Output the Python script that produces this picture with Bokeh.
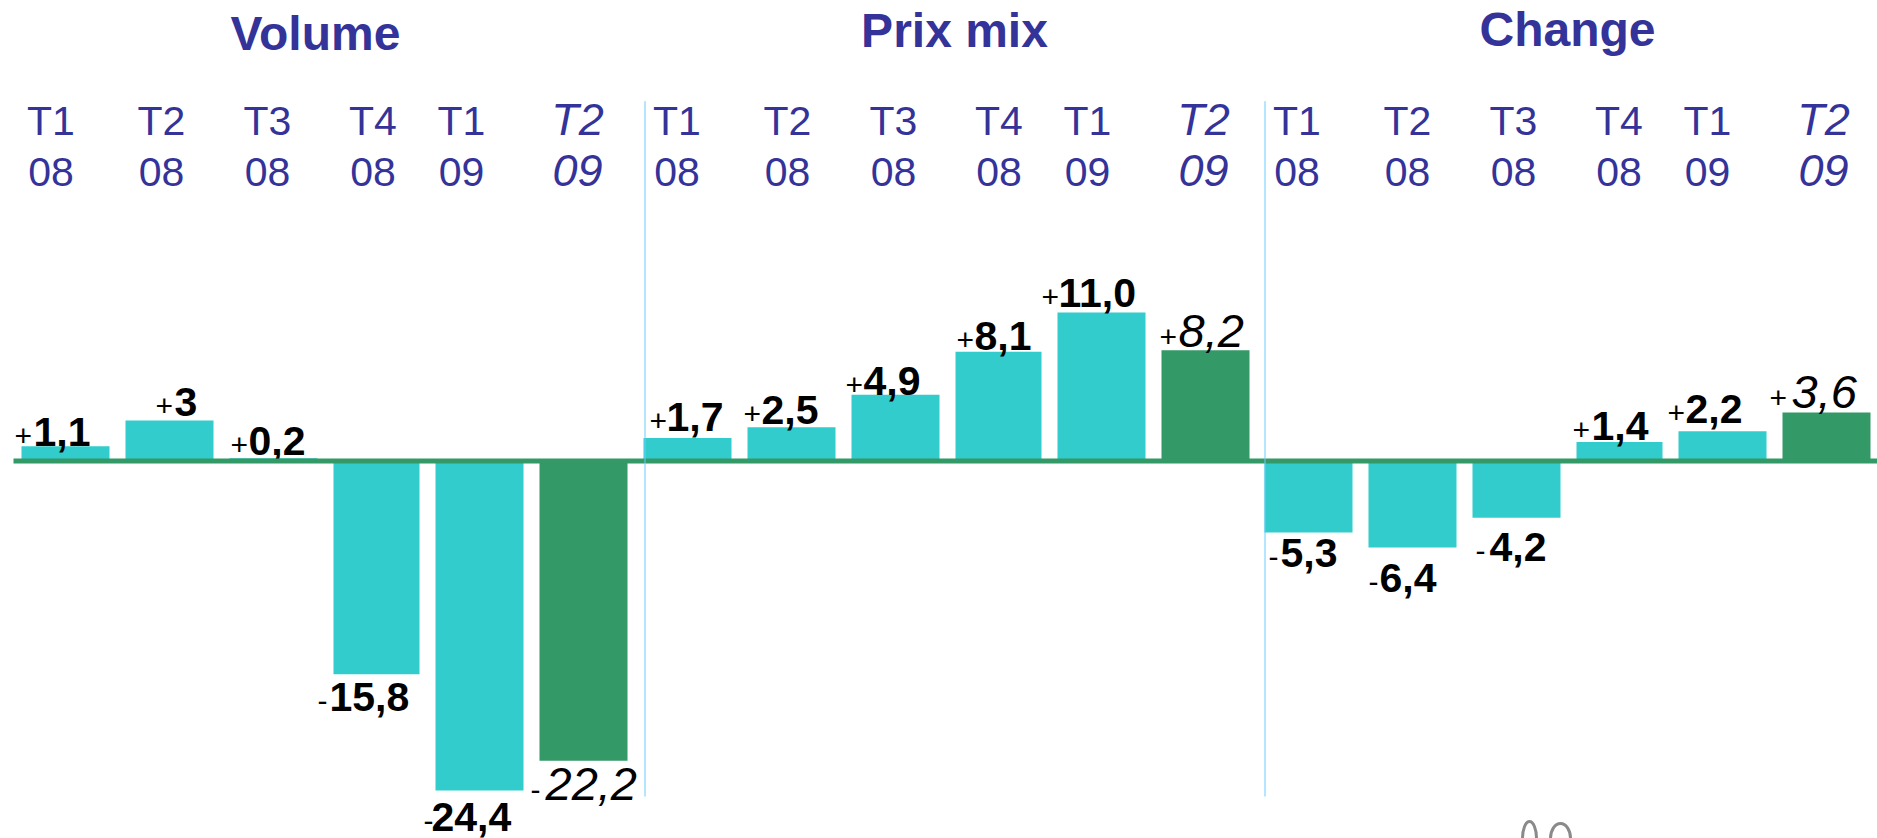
from bokeh.plotting import figure
from bokeh.core.properties import value
from bokeh.embed import file_html
from bokeh.resources import INLINE

# ---- data ----
groups = ["Volume", "Prix mix", "Change"]
quarters = ["T1", "T2", "T3", "T4", "T1", "T2"]
years = ["08", "08", "08", "08", "09", "09"]
volume = [1.1, 3.0, 0.2, -15.8, -24.4, -22.2]
prix_mix = [1.7, 2.5, 4.9, 8.1, 11.0, 8.2]
change = [-5.3, -6.4, -4.2, 1.4, 2.2, 3.6]
volume_labels = ["1,1", "3", "0,2", "15,8", "24,4", "22,2"]
prix_mix_labels = ["1,7", "2,5", "4,9", "8,1", "11,0", "8,2"]
change_labels = ["5,3", "6,4", "4,2", "1,4", "2,2", "3,6"]

# ---- layout (page pixels) ----
W, H = 1877, 838
ZERO_PX, PX_PER_UNIT = 460.5, 13.5
group_bar_origin = [21, 643, 1264]
bar_steps = [0, 104, 208, 312, 414, 518]
bar_widths = [88, 88, 88, 86, 88, 88]
group_label_shift = [0, 626, 1246]
label_centers = [50.5, 161, 267, 372.5, 461, 580]
title_pos = [(315, 50), (954, 47), (1567, 46)]
dividers = [644.5, 1264.5]
sign_x = [[14, 155, 230, 317, 423, 530],
          [649, 743, 845, 956, 1041, 1159],
          [1268, 1368, 1475, 1572, 1667, 1769]]
num_x = [[33, 174, 248, 329, 431, 545],
         [666, 761, 863, 974, 1058, 1178],
         [1280, 1379, 1489, 1591, 1685, 1791]]
baselines = [[446, 416, 455, 711, 831, 800],
             [431, 424, 395, 350, 307, 347],
             [567, 592, 561, 440, 423, 408]]

NAVY, TEAL, GREEN, BLUE = "#333399", "#33CCCC", "#339966", "#66CCFF"
FONT = value("Liberation Sans")

p = figure(width=W, height=H, toolbar_location=None, output_backend="svg",
           x_range=(0, W),
           y_range=(-(H - ZERO_PX) / PX_PER_UNIT, ZERO_PX / PX_PER_UNIT),
           min_border=0, outline_line_color=None, margin=(0, 0, 0, 0))
p.axis.visible = False
p.grid.visible = False
p.background_fill_color = "white"
p.border_fill_color = "white"


def ydata(px):
    return (ZERO_PX - px) / PX_PER_UNIT


def ytext(px, size):
    # the renderer centres the capitals on y: lift by half the cap height
    return ydata(px - 0.36 * size)


series = [volume, prix_mix, change]
labels = [volume_labels, prix_mix_labels, change_labels]

for g, name in enumerate(groups):
    vals = series[g]
    lefts = [group_bar_origin[g] + s for s in bar_steps]
    xs = [l + w / 2 for l, w in zip(lefts, bar_widths)]
    colors = [TEAL] * 5 + [GREEN]
    p.vbar(x=xs, width=bar_widths, bottom=0, top=vals, fill_color=colors, line_color=None)

    tx, ty = title_pos[g]
    p.text(x=[tx], y=[ytext(ty, 48)], text=[name], text_font=FONT, text_font_size="48px",
           text_font_style="bold", text_color=NAVY, text_align="center",
           text_baseline="alphabetic")

    for i in range(6):
        italic = i == 5
        style = "italic" if italic else "normal"
        size = 45 if italic else 41
        cx = label_centers[i] + group_label_shift[g]
        dx_top = -3 if italic else 0
        dx_bot = -3 if italic else 0
        p.text(x=[cx + dx_top], y=[ytext(135, size)], text=[quarters[i]], text_font=FONT,
               text_font_size=f"{size}px", text_font_style=style, text_color=NAVY,
               text_align="center", text_baseline="alphabetic")
        p.text(x=[cx + dx_bot], y=[ytext(186, size)], text=[years[i]], text_font=FONT,
               text_font_size=f"{size}px", text_font_style=style, text_color=NAVY,
               text_align="center", text_baseline="alphabetic")

        v = vals[i]
        sign = "+" if v > 0 else "-"
        b = baselines[g][i]
        num_size = 47 if italic else 41
        p.text(x=[sign_x[g][i]], y=[ytext(b, 30)], text=[sign], text_font=FONT, text_font_size="30px",
               text_color="black", text_align="left", text_baseline="alphabetic")
        p.text(x=[num_x[g][i]], y=[ytext(b, num_size)], text=[labels[g][i]], text_font=FONT,
               text_font_size=f"{num_size}px",
               text_font_style="italic" if italic else "bold",
               text_color="black", text_align="left", text_baseline="alphabetic")

# zero line and group dividers
p.line(x=[13, W], y=[0, 0], line_color=GREEN, line_width=5)
for d in dividers:
    p.line(x=[d, d], y=[ydata(100.7), ydata(796)], line_color=BLUE, line_width=1)

# clipped logo fragment at the bottom edge
p.ellipse(x=[1529, 1560], y=[ydata(838), ydata(838)], width=[14, 20], height=[34, 30],
          width_units="screen", height_units="screen", fill_color=None,
          line_color="#8a8a8a", line_width=3)

open("out.html", "w").write(file_html(p, INLINE))
